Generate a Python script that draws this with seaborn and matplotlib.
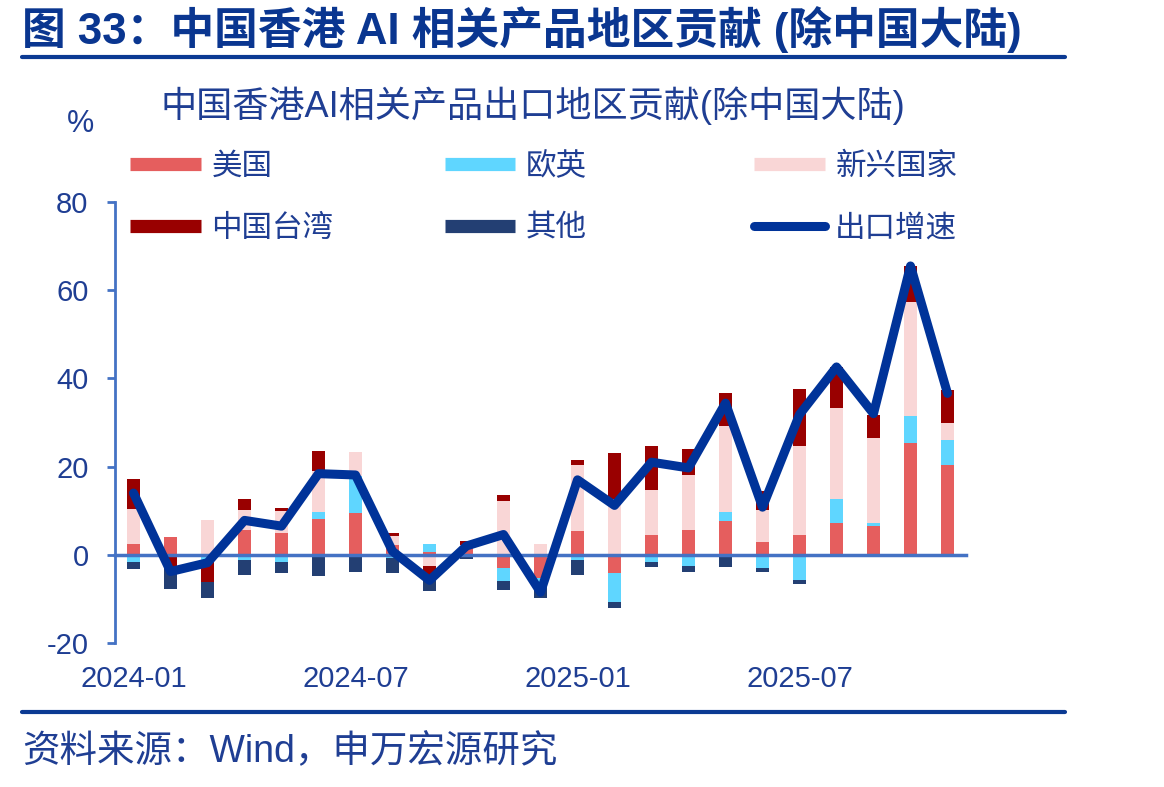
import numpy as np
import pandas as pd
import matplotlib
matplotlib.use("Agg")
import matplotlib.pyplot as plt
import seaborn as sns
from matplotlib.lines import Line2D

# 数据（从图中读取的估计值，单位：%）
months = ['2024-01', '2024-02', '2024-03', '2024-04', '2024-05', '2024-06',
          '2024-07', '2024-08', '2024-09', '2024-10', '2024-11', '2024-12',
          '2025-01', '2025-02', '2025-03', '2025-04', '2025-05', '2025-06',
          '2025-07', '2025-08', '2025-09', '2025-10', '2025-11']
us = [2.5, 4.0, -0.6, 5.7, 5.0, 8.2, 9.5, 2.3, 0.6, 2.0, -3.0, -5.3,
      5.3, -4.1, 4.5, 5.7, 7.7, 2.8, 4.4, 7.3, 6.6, 25.3, 20.4]
eu_uk = [-1.7, -0.3, -0.8, -1.2, -1.7, 1.4, 8.3, -0.7, 1.8, 0.0, -3.0, -1.1,
         -1.1, -6.7, -1.7, -2.5, 2.1, -3.0, -5.7, 5.3, 0.5, 6.1, 5.7]
emerging = [7.8, -0.3, 7.8, 4.5, 4.9, 9.4, 5.5, 1.9, -2.6, 0.3, 12.3, 2.4,
            15.0, 12.7, 10.1, 12.4, 19.3, 7.4, 20.2, 20.6, 19.3, 25.9, 3.8]
taiwan = [7.0, -2.5, -4.8, 2.5, 0.8, 4.5, -0.5, 0.8, -3.2, 0.8, 1.3, 0.0,
          1.1, 10.4, 10.1, 5.8, 7.6, 4.2, 12.9, 9.4, 5.4, 8.3, 7.4]
others = [-1.5, -4.6, -3.6, -3.3, -2.4, -4.8, -3.5, -3.5, -2.5, -0.9, -2.0, -3.4,
          -3.4, -1.3, -1.1, -1.3, -2.8, -0.8, -1.0, 0.0, 0.0, -0.6, -0.6]
growth = [14.0, -3.8, -1.8, 7.8, 6.5, 18.4, 18.1, 0.8, -5.8, 2.0, 4.6, -8.5,
          17.0, 11.2, 21.0, 19.7, 34.4, 10.8, 31.8, 42.6, 32.0, 65.5, 36.6]
tick_months = ['2024-01', '2024-07', '2025-01', '2025-07']

series_names = ['美国', '欧英', '新兴国家', '中国台湾', '其他']
series_vals = [us, eu_uk, emerging, taiwan, others]
colors = {'美国': '#E55E5E', '欧英': '#5FD6FF', '新兴国家': '#F9D6D6',
          '中国台湾': '#990000', '其他': '#233F73'}
line_color = '#003399'
axis_color = '#4472C4'
text_color = '#1F3E93'
title_color = '#0A3690'

sns.set_style('white')
plt.rcParams['font.family'] = ['Liberation Sans', 'Noto Sans CJK SC', 'DejaVu Sans']
plt.rcParams['axes.unicode_minus'] = False

# 正负值分别累计，用于堆叠
arr = np.array(series_vals)
cum_pos = np.cumsum(np.clip(arr, 0, None), axis=0)
cum_neg = np.cumsum(np.clip(arr, None, 0), axis=0)
rows_pos, rows_neg = [], []
for k, name in enumerate(series_names):
    for i, m in enumerate(months):
        rows_pos.append({'month': m, 'series': name, 'value': cum_pos[k, i]})
        rows_neg.append({'month': m, 'series': name, 'value': cum_neg[k, i]})
df_pos = pd.DataFrame(rows_pos)
df_neg = pd.DataFrame(rows_neg)

fig = plt.figure(figsize=(11.64, 7.87), dpi=100)
ax = fig.add_axes([0.0988, 0.183, 0.7311, 0.5603])

draw_order = series_names[::-1]
for df in (df_pos, df_neg):
    sns.barplot(data=df, x='month', y='value', hue='series', order=months,
                hue_order=draw_order, palette=colors, dodge=False, width=0.33,
                saturation=1, linewidth=0, errorbar=None, legend=False, ax=ax)

sns.lineplot(x=np.arange(len(months)), y=growth, color=line_color, lw=6.5,
             ax=ax, zorder=5, solid_joinstyle='round', solid_capstyle='round')

ax.set_xlim(-0.5, len(months) - 0.5)
ax.set_ylim(-20, 80)
ax.set_yticks([-20, 0, 20, 40, 60, 80])
ax.set_xlabel('')
ax.set_ylabel('')

for s in ['top', 'right']:
    ax.spines[s].set_visible(False)
ax.spines['left'].set_color(axis_color)
ax.spines['left'].set_linewidth(2)
ax.spines['bottom'].set_position(('data', 0))
ax.spines['bottom'].set_color(axis_color)
ax.spines['bottom'].set_linewidth(2.5)
ax.spines['bottom'].set_zorder(4)

ax.set_xticks([months.index(m) for m in tick_months])
ax.set_xticklabels(tick_months)
ax.set_xticks([5.5, 11.5, 17.5], minor=True)
ax.tick_params(axis='x', which='major', length=0, pad=79, labelsize=21,
               labelcolor=text_color)
ax.tick_params(axis='x', which='minor', direction='out', length=6, width=2,
               color=axis_color)
ax.tick_params(axis='y', direction='out', length=6, width=2, color=axis_color,
               labelsize=21, labelcolor=text_color, pad=13, left=True)

# 标题与注释
fig.text(0.019, 0.962, '图 33：中国香港 AI 相关产品地区贡献 (除中国大陆)',
         fontsize=31.5, fontweight='bold', color=title_color, va='center', ha='left')
fig.add_artist(Line2D([0.019, 0.915], [0.9276, 0.9276], transform=fig.transFigure,
                      color='#0B3A93', lw=3))
fig.text(0.458, 0.866, '中国香港AI相关产品出口地区贡献(除中国大陆)', fontsize=26,
         color=text_color, ha='center', va='center')
fig.text(0.069, 0.843, '%', fontsize=22, color=text_color, ha='center', va='center')
fig.add_artist(Line2D([0.019, 0.915], [0.0953, 0.0953], transform=fig.transFigure,
                      color='#0B3A93', lw=3))
fig.text(0.019, 0.044, '资料来源：Wind，申万宏源研究', fontsize=27,
         color=text_color, ha='left', va='center')

# 图例（三列分开放置）
def bar_handle(c):
    return Line2D([], [], color=c, lw=9.5, solid_capstyle='butt')

legend_cols = [
    (0.112, [bar_handle(colors['美国']), bar_handle(colors['中国台湾'])], ['美国', '中国台湾']),
    (0.382, [bar_handle(colors['欧英']), bar_handle(colors['其他'])], ['欧英', '其他']),
    (0.648, [bar_handle(colors['新兴国家']),
             Line2D([], [], color=line_color, lw=6.5, solid_capstyle='round')],
     ['新兴国家', '出口增速']),
]
for x0, hs, ls in legend_cols:
    fig.legend(hs, ls, loc='upper left', bbox_to_anchor=(x0, 0.807),
               bbox_transform=fig.transFigure, frameon=False, fontsize=22,
               labelcolor=text_color, handlelength=2.3, handletextpad=0.35,
               labelspacing=1.05, borderpad=0, borderaxespad=0)

fig.savefig('out.png', dpi=100)
